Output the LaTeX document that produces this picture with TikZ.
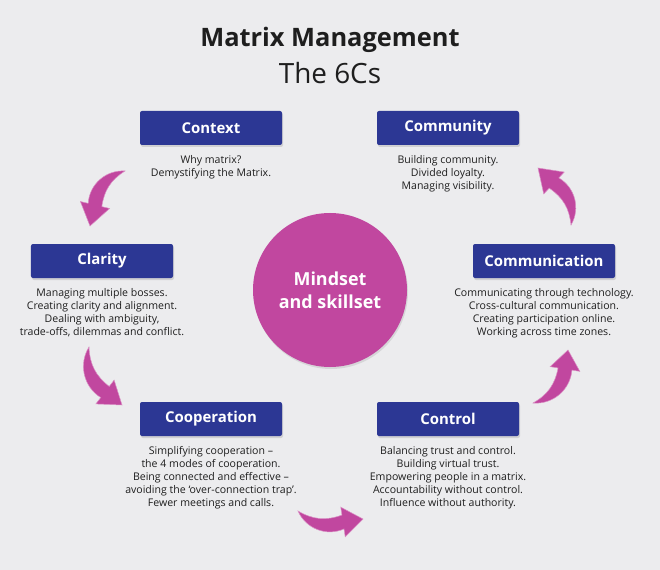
\documentclass[tikz,border=0pt]{standalone}
\usepackage{fontspec}
\setmainfont{Open Sans}
\usetikzlibrary{positioning,calc,shadows}
\definecolor{boxblue}{HTML}{2C3794}
\definecolor{plum}{HTML}{C1479F}
\definecolor{backdrop}{HTML}{ECECEE}
\definecolor{inktext}{HTML}{1E1E1E}
% curved block arrow: tail, head base centre, tip, outer bend, inner bend
\newcommand\cyclearrow[5]{%
\fill[flow] (#1) to[bend right=#5] ($(#2)!7bp!90:(#3)$) -- ($(#2)!15bp!90:(#3)$) -- (#3)
  -- ($(#2)!15bp!-90:(#3)$) -- ($(#2)!7bp!-90:(#3)$) to[bend left=#4] (#1) -- cycle;}

\begin{document}
\begin{tikzpicture}[x=1bp,y=-1bp,node distance=9bp and 5bp,
cbox/.style={fill=boxblue,text=white,rounded corners=2bp,minimum width=142bp,minimum height=34bp,
  font=\bfseries\fontsize{15}{17}\selectfont,drop shadow={opacity=0.25,shadow xshift=1bp,shadow yshift=-2bp}},
blurb/.style={align=center,font=\fontsize{10.6}{13}\selectfont,text=inktext,inner sep=1bp},
flow/.style={fill=plum,draw=plum!60,line width=0.5bp}]
\fill[backdrop] (0,0) rectangle (660,570);
% title
\node[font=\bfseries\fontsize{25.5}{28}\selectfont,text=inktext] (title) at (330,40) {Matrix Management};
\node[font=\fontsize{28}{30}\selectfont,text=inktext] (subtitle) at (330,73) {The 6Cs};
% centre
\node[circle,fill=plum,minimum size=154bp,align=center,text=white,font=\bfseries\fontsize{18}{23}\selectfont,
  drop shadow={opacity=0.2,shadow xshift=1bp,shadow yshift=-2bp}] (core) at (330,290) {Mindset\\and skillset};
% the six Cs
\node[cbox] (context) at (211,128) {Context};
\node[blurb,below=of context] (contexttxt) {Why matrix?\\Demystifying the Matrix.};
\node[cbox] (community) at (448,128) {Community};
\node[blurb,below=of community] (communitytxt) {Building community.\\Divided loyalty.\\Managing visibility.};
\node[cbox] (clarity) at (102,261) {Clarity};
\node[blurb,below=of clarity] (claritytxt) {Managing multiple bosses.\\Creating clarity and alignment.\\Dealing with ambiguity,\\trade-offs, dilemmas and conflict.};
\node[cbox] (communication) at (544,261) {Communication};
\node[blurb,below=of communication] (communicationtxt) {Communicating through technology.\\Cross-cultural communication.\\Creating participation online.\\Working across time zones.};
\node[cbox] (cooperation) at (211,419) {Cooperation};
\node[blurb,below=of cooperation] (cooperationtxt) {Simplifying cooperation --\\the 4 modes of cooperation.\\Being connected and effective --\\avoiding the `over-connection trap'.\\Fewer meetings and calls.};
\node[cbox] (control) at (448,419) {Control};
\node[blurb,below=of control] (controltxt) {Balancing trust and control.\\Building virtual trust.\\Empowering people in a matrix.\\Accountability without control.\\Influence without authority.};
% arrows round the cycle
\coordinate (a1t) at (125,171); \coordinate (a1b) at (95,205); \coordinate (a1p) at (90,226);
\coordinate (a2t) at (89,347);  \coordinate (a2b) at (105,392); \coordinate (a2p) at (122,405);
\coordinate (a3t) at (298,511); \coordinate (a3b) at (343,522); \coordinate (a3p) at (363,519);
\coordinate (a4t) at (533,403); \coordinate (a4b) at (565,369); \coordinate (a4p) at (568,350);
\coordinate (a5t) at (571,225); \coordinate (a5b) at (554,183); \coordinate (a5p) at (538,168);
\cyclearrow{a1t}{a1b}{a1p}{45}{25}
\cyclearrow{a2t}{a2b}{a2p}{45}{25}
\cyclearrow{a3t}{a3b}{a3p}{45}{25}
\cyclearrow{a4t}{a4b}{a4p}{45}{25}
\cyclearrow{a5t}{a5b}{a5p}{45}{25}
\end{tikzpicture}
\end{document}
